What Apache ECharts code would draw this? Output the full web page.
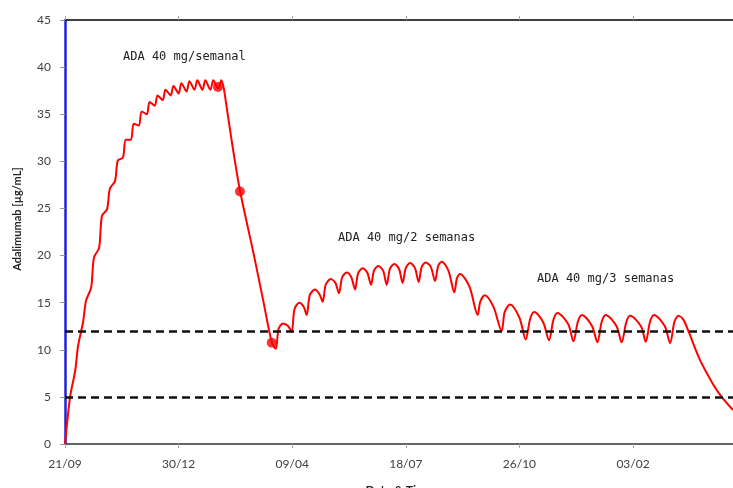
<!DOCTYPE html>
<html><head><meta charset="utf-8">
<script src="https://cdn.jsdelivr.net/npm/echarts@6/dist/echarts.min.js"></script>
<style>html,body{margin:0;padding:0;background:#fff}#c{width:733px;height:488px}</style>
</head><body><div id="c"></div>
<script>
// Days since 21/09 (day 0); concentrations in µg/mL
const weeklyDays = [0,4.5,9,11.5,16,18.5,23,25.5,30,32.5,37,39.5,44,46.5,51,53.5,58,60.5,65,67.5,72,74.5,79,81.5,86,88.5,93,95.5,100,102.5,107,109.5,114,116.5,121,123.5,128,130.5,135,137.5];
const weeklyConc = [0,5.0,7.8,10.4,13.0,15.2,16.6,19.8,20.8,24.2,24.9,27.1,27.9,30.1,30.4,32.3,32.3,34.0,33.8,35.3,35.0,36.3,35.9,37.0,36.5,37.6,37.0,38.0,37.2,38.3,37.4,38.5,37.6,38.6,37.6,38.6,37.6,38.6,37.7,38.6];

const washoutDays = [139.5,141.5,148,154,166,175,182];
const washoutConc = [37.9,36.4,31.2,26.9,20.2,14.9,10.8];

const biweeklyDays = [185.5,188,192,196.5,199.5,202,206.2,210,212.7,215.5,220,224,226.8,229.5,233.9,238,241.2,244,248,252,255.3,258,262,266,269.4,272,275.8,280,283.2,286,289.9,294,297.2,300,303.7,308,311.3,314,317.5,322,325.7,328.5,331.6,337.5,342.7,345,347.7,356,363.3,365.5,369.5,377];
const biweeklyConc = [10.1,12.2,12.8,12.5,11.9,14.3,15.0,14.6,13.7,15.8,16.4,15.9,15.1,16.9,17.5,17.1,16.0,17.7,18.2,17.7,16.4,18.1,18.65,18.2,16.9,18.4,18.9,18.4,16.9,18.6,19.1,18.6,17.1,18.7,19.2,18.7,17.2,18.8,19.25,18.8,17.3,18.9,19.35,18.4,16.1,17.6,18.05,16.7,13.7,15.1,15.8,14.6];

const triweeklyDays = [384.4,387,391.7,400,405.5,409.5,413,421,426,430,433.5,443,447.5,451.5,455,464,468.6,472.5,476,485.5,490,494,497.4,507,511.2,515,518.5,528,532.6,536.5,540,544.3,548.7,559,570.7,578,588];
const triweeklyConc = [12.0,14.0,14.8,13.4,11.1,13.3,14.0,12.9,11.0,13.2,13.9,12.7,10.9,13.0,13.7,12.5,10.8,13.0,13.7,12.5,10.8,12.9,13.6,12.5,10.85,13.0,13.7,12.5,10.7,13.0,13.6,13.2,12.0,8.9,6.3,5.0,3.6];

const markerDays = [134.7,154,182];
const markerConc = [37.9,26.8,10.75];

const thresholds = [12,5];
const tickLabels = ['21/09','30/12','09/04','18/07','26/10','03/02'];
const annotations = ['ADA 40 mg/semanal','ADA 40 mg/2 semanas','ADA 40 mg/3 semanas'];

const curve = [];
function addPhase(d,c){ for(let i=0;i<d.length;i++) curve.push([d[i],c[i]]); }
addPhase(weeklyDays,weeklyConc);
addPhase(washoutDays,washoutConc);
addPhase(biweeklyDays,biweeklyConc);
addPhase(triweeklyDays,triweeklyConc);
const markers = markerDays.map((d,i)=>[d,markerConc[i]]);

const chart = echarts.init(document.getElementById('c'));
const labelFont = 'Lato, "Open Sans", sans-serif';
const monoFont = '"DejaVu Sans Mono", "Liberation Mono", monospace';
chart.setOption({
  animation:false,
  backgroundColor:'#fff',
  grid:{left:65, top:20, right:0, bottom:44, containLabel:false, outerBoundsMode:'none'},
  xAxis:[{
    type:'value', min:0, max:588, interval:100,
    axisLine:{lineStyle:{color:'#333', width:1.5}},
    axisTick:{show:true, length:4, lineStyle:{color:'#aaa'}},
    axisLabel:{formatter:v=>tickLabels[v/100] ?? '', color:'#404040', fontSize:12, margin:14, fontFamily:labelFont},
    splitLine:{show:false},
    name:'Date & Time', nameLocation:'middle', nameGap:40,
    nameTextStyle:{color:'#222', fontSize:12, fontWeight:'bold', fontFamily:labelFont}
  },{
    type:'value', position:'top', min:0, max:588, interval:100,
    axisLine:{lineStyle:{color:'#000', width:1.5}},
    axisTick:{show:true, length:4, lineStyle:{color:'#aaa'}},
    axisLabel:{show:false}, splitLine:{show:false}
  }],
  yAxis:{
    type:'value', min:0, max:45, interval:5,
    axisLine:{show:true, lineStyle:{color:'#2020d8', width:2.5}},
    axisTick:{show:true, length:5, lineStyle:{color:'#999'}},
    axisLabel:{color:'#404040', fontSize:12, margin:14, fontFamily:labelFont},
    splitLine:{show:false},
    name:'Adalimumab [µg/mL]', nameLocation:'middle', nameGap:42,
    nameTextStyle:{color:'#222', fontSize:11, fontWeight:'bold', fontFamily:labelFont, padding:[0,0,0,26]}
  },
  series:[{
    type:'line', data:curve, showSymbol:false, smooth:0.3,
    lineStyle:{color:'#ff0000', width:2},
    markLine:{silent:true, symbol:'none', label:{show:false},
      lineStyle:{type:[8,5], color:'#111', width:2.5},
      data:thresholds.map(v=>({yAxis:v}))}
  },{
    type:'scatter', data:markers, symbolSize:10, itemStyle:{color:'#ff0000'}, z:3
  }],
  graphic:[
    {type:'text', x:123, y:57, style:{text:annotations[0], font:'12px '+monoFont, fill:'#222', textVerticalAlign:'middle'}},
    {type:'text', x:338, y:238, style:{text:annotations[1], font:'12px '+monoFont, fill:'#222', textVerticalAlign:'middle'}},
    {type:'text', x:537, y:279, style:{text:annotations[2], font:'12px '+monoFont, fill:'#222', textVerticalAlign:'middle'}}
  ]
});
</script></body></html>
